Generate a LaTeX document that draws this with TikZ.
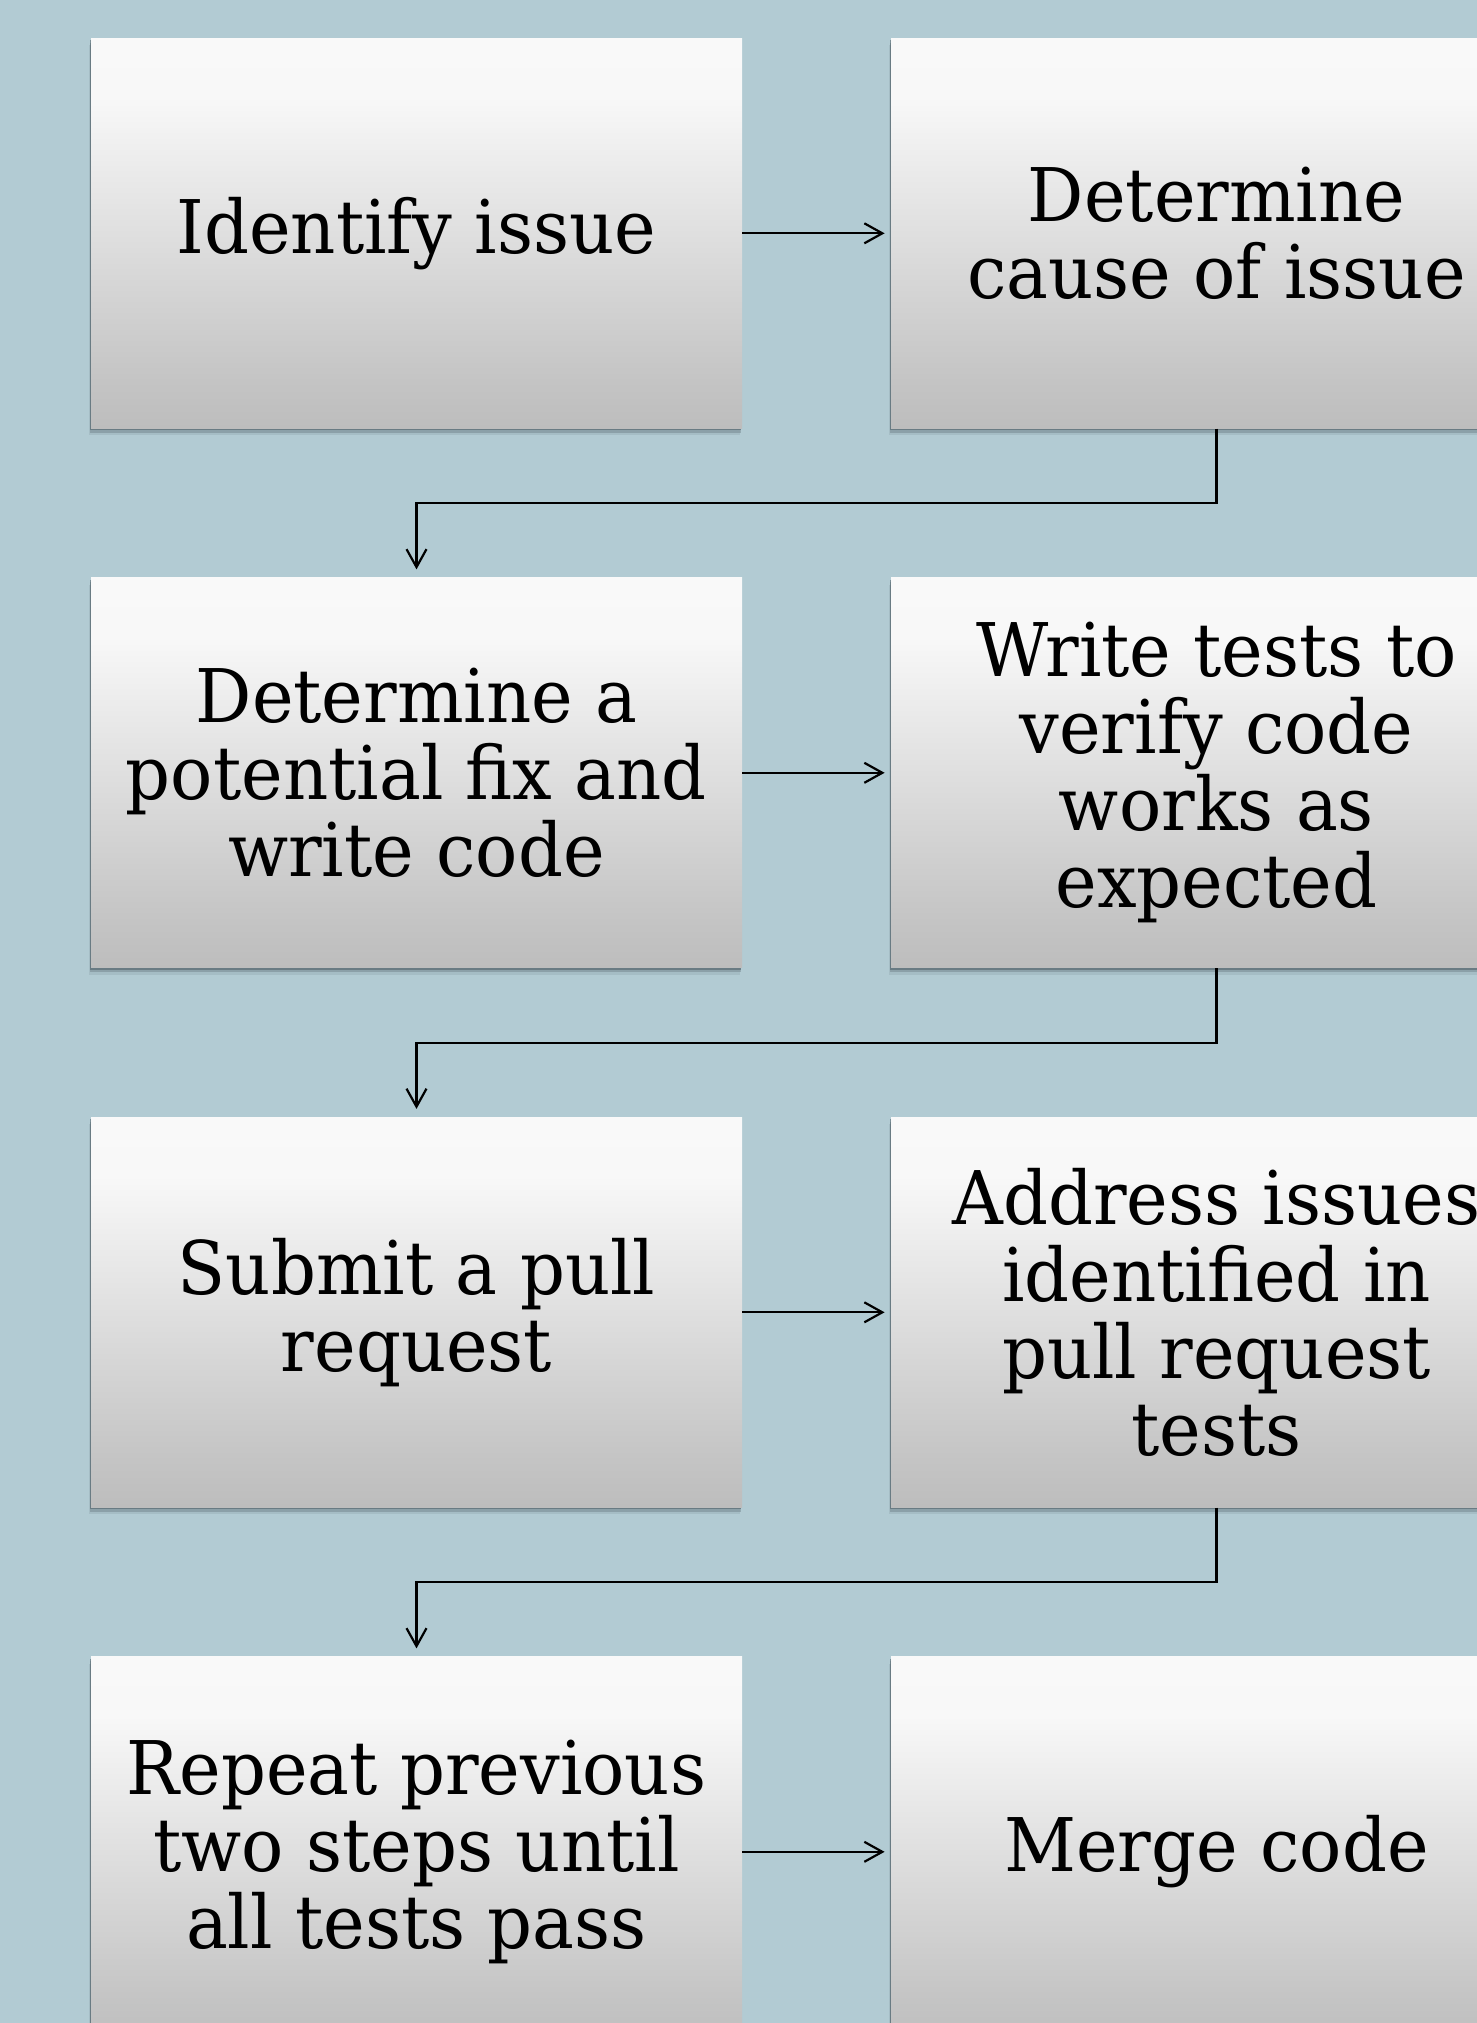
\documentclass[tikz,border=0pt]{standalone}
\usepackage{fontspec}
\setmainfont{DejaVu Serif}[FakeStretch=0.95]
\usetikzlibrary{arrows.meta,shadows}
\definecolor{bgcol}{HTML}{B2CBD3}
\definecolor{shadowcol}{HTML}{4F5F66}
\definecolor{gA}{HTML}{BDBDBD}
\definecolor{gB}{HTML}{C4C4C4}
\definecolor{gC}{HTML}{DFDFDF}
\definecolor{gD}{HTML}{F1F1F1}
\definecolor{gE}{HTML}{F8F8F8}
\definecolor{gF}{HTML}{F9F9F9}
\pgfdeclareverticalshading{boxgrad}{100bp}{color(0bp)=(gA); color(25bp)=(gA); color(31bp)=(gB); color(50bp)=(gC); color(62.5bp)=(gD); color(67.5bp)=(gE); color(75bp)=(gF); color(100bp)=(gF)}
\tikzset{
  stepbox/.style={rectangle, inner sep=0pt, minimum width=325.5pt, minimum height=195pt,
    shade, shading=boxgrad, align=center, text=black,
    font=\fontsize{37}{38.5}\selectfont,
    drop shadow={shadow xshift=-0.5pt, shadow yshift=-1pt, fill=shadowcol, opacity=0.55},
    drop shadow={shadow xshift=-0.7pt, shadow yshift=-2.2pt, fill=shadowcol, opacity=0.3},
    drop shadow={shadow xshift=-0.9pt, shadow yshift=-3.4pt, fill=shadowcol, opacity=0.12}},
  conn/.style={draw=black, line width=1.1pt, -{Straight Barb[length=9pt,width=10pt,line width=1.1pt]}}
}
\begin{document}
\begin{tikzpicture}[x=0.5pt,y=-0.5pt]
\useasboundingbox (0,0) rectangle (1477,2023);
\clip (0,0) rectangle (1477,2023);
\fill[bgcol] (0,0) rectangle (1477,2023);
\node[stepbox] (a1) at (416.5,233.3) {Identify issue};
\node[stepbox] (b1) at (1216.5,233.3) {Determine\\cause of issue};
\node[stepbox] (a2) at (416.5,772.8) {Determine a\\potential fix and\\write code};
\node[stepbox] (b2) at (1216.5,772.8) {Write tests to\\verify code\\works as\\expected};
\node[stepbox] (a3) at (416.5,1312.3) {Submit a pull\\request};
\node[stepbox] (b3) at (1216.5,1312.3) {Address issues\\identified in\\pull request\\tests};
\node[stepbox] (a4) at (416.5,1851.8) {Repeat previous\\two steps until\\all tests pass};
\node[stepbox] (b4) at (1216.5,1851.8) {Merge code};
\draw[conn, shorten >=3pt] (a1.east) -- (b1.west);
\draw[conn, shorten >=3pt] (a2.east) -- (b2.west);
\draw[conn, shorten >=3pt] (a3.east) -- (b3.west);
\draw[conn, shorten >=3pt] (a4.east) -- (b4.west);
\draw[conn, shorten >=4pt] (b1.south) -- ++(0,74.6) -| (a2.north);
\draw[conn, shorten >=4pt] (b2.south) -- ++(0,74.6) -| (a3.north);
\draw[conn, shorten >=4pt] (b3.south) -- ++(0,74.6) -| (a4.north);
\end{tikzpicture}
\end{document}
